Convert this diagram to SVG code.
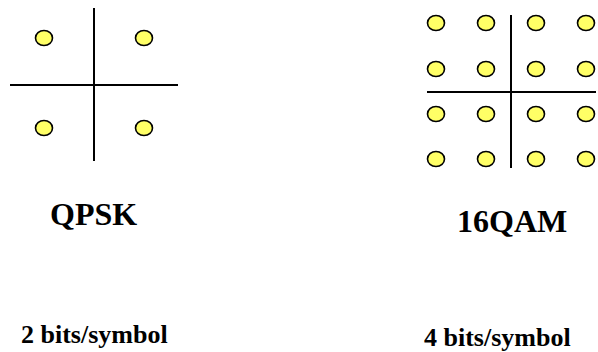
<svg xmlns="http://www.w3.org/2000/svg" width="598" height="352" viewBox="0 0 598 352">
<style>
.ax{stroke:#000;stroke-width:2;fill:none}
.pt{fill:#ffff66;stroke:#000;stroke-width:1.6}
.t{font-family:"Liberation Serif","Times New Roman",serif;font-weight:bold;fill:#000}
</style>
<rect width="598" height="352" fill="#fff"/>
<g id="qpsk">
<line class="ax" x1="94" y1="8" x2="94" y2="161"/>
<line class="ax" x1="10" y1="85" x2="178" y2="85"/>
<ellipse class="pt" cx="44" cy="38" rx="8.5" ry="7.5"/>
<ellipse class="pt" cx="144" cy="38" rx="8.5" ry="7.5"/>
<ellipse class="pt" cx="44" cy="128" rx="8.5" ry="7.5"/>
<ellipse class="pt" cx="144" cy="128" rx="8.5" ry="7.5"/>
</g>
<g id="qam16">
<line class="ax" x1="511" y1="15" x2="511" y2="168"/>
<line class="ax" x1="427" y1="92" x2="596" y2="92"/>
<ellipse class="pt" cx="436" cy="23" rx="8.5" ry="7.5"/>
<ellipse class="pt" cx="486" cy="23" rx="8.5" ry="7.5"/>
<ellipse class="pt" cx="536" cy="23" rx="8.5" ry="7.5"/>
<ellipse class="pt" cx="586" cy="23" rx="8.5" ry="7.5"/>
<ellipse class="pt" cx="436" cy="69" rx="8.5" ry="7.5"/>
<ellipse class="pt" cx="486" cy="69" rx="8.5" ry="7.5"/>
<ellipse class="pt" cx="536" cy="69" rx="8.5" ry="7.5"/>
<ellipse class="pt" cx="586" cy="69" rx="8.5" ry="7.5"/>
<ellipse class="pt" cx="436" cy="114" rx="8.5" ry="7.5"/>
<ellipse class="pt" cx="486" cy="114" rx="8.5" ry="7.5"/>
<ellipse class="pt" cx="536" cy="114" rx="8.5" ry="7.5"/>
<ellipse class="pt" cx="586" cy="114" rx="8.5" ry="7.5"/>
<ellipse class="pt" cx="436" cy="159" rx="8.5" ry="7.5"/>
<ellipse class="pt" cx="486" cy="159" rx="8.5" ry="7.5"/>
<ellipse class="pt" cx="536" cy="159" rx="8.5" ry="7.5"/>
<ellipse class="pt" cx="586" cy="159" rx="8.5" ry="7.5"/>
</g>
<g id="labels">
<text class="t" x="50" y="225" font-size="32">QPSK</text>
<text class="t" x="457" y="232" font-size="32">16QAM</text>
<text class="t" x="21" y="343" font-size="26">2 bits/symbol</text>
<text class="t" x="424" y="346" font-size="26">4 bits/symbol</text>
</g>
</svg>
